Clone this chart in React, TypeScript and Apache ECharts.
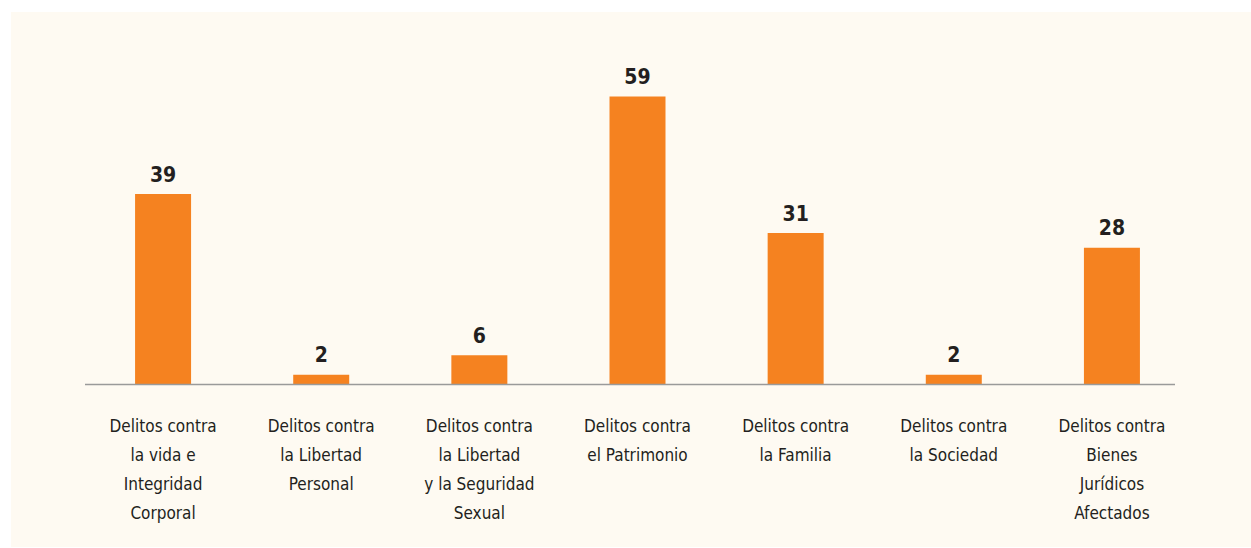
import React, { useEffect, useRef } from "react";
import * as echarts from "echarts";

const categories: string[] = [
  "Delitos contra\nla vida e\nIntegridad\nCorporal",
  "Delitos contra\nla Libertad\nPersonal",
  "Delitos contra\nla Libertad\ny la Seguridad\nSexual",
  "Delitos contra\nel Patrimonio",
  "Delitos contra\nla Familia",
  "Delitos contra\nla Sociedad",
  "Delitos contra\nBienes\nJurídicos\nAfectados",
];
const values: number[] = [39, 2, 6, 59, 31, 2, 28];

const FONT = "'Liberation Sans Narrow', 'DejaVu Sans Condensed', sans-serif";

export default function App() {
  const ref = useRef<HTMLDivElement>(null);
  useEffect(() => {
    document.body.style.margin = "0";
    const chart = echarts.init(ref.current!, undefined, { renderer: "svg" });
    chart.setOption({
      animation: false,
      backgroundColor: "#ffffff",
      graphic: [
        {
          type: "rect",
          z: -10,
          silent: true,
          shape: { x: 11, y: 12, width: 1240, height: 535 },
          style: { fill: "#FEFAF2" },
        },
        {
          type: "line",
          z: 10,
          silent: true,
          shape: { x1: 85, y1: 384.5, x2: 1175, y2: 384.5 },
          style: { stroke: "#9a9a9a", lineWidth: 1.5 },
        },
      ],
      grid: { left: 84, right: 60, top: 91.5, bottom: 163.5 },
      xAxis: {
        type: "category",
        data: categories,
        axisLine: { show: false },
        axisTick: { show: false },
        axisLabel: {
          interval: 0,
          margin: 27,
          color: "#231f20",
          fontFamily: FONT,
          fontSize: 17,
          lineHeight: 29,
          align: "center",
        },
      },
      yAxis: {
        type: "value",
        min: 0,
        max: 60,
        show: false,
        splitLine: { show: false },
      },
      series: [
        {
          type: "bar",
          data: values,
          barWidth: 56,
          itemStyle: { color: "#F58220" },
          label: {
            show: true,
            position: "top",
            distance: 9,
            color: "#231f20",
            fontFamily: FONT,
            fontWeight: "bold",
            fontSize: 21,
          },
        },
      ],
    });
    return () => chart.dispose();
  }, []);
  return <div ref={ref} style={{ width: 1251, height: 548 }} />;
}
